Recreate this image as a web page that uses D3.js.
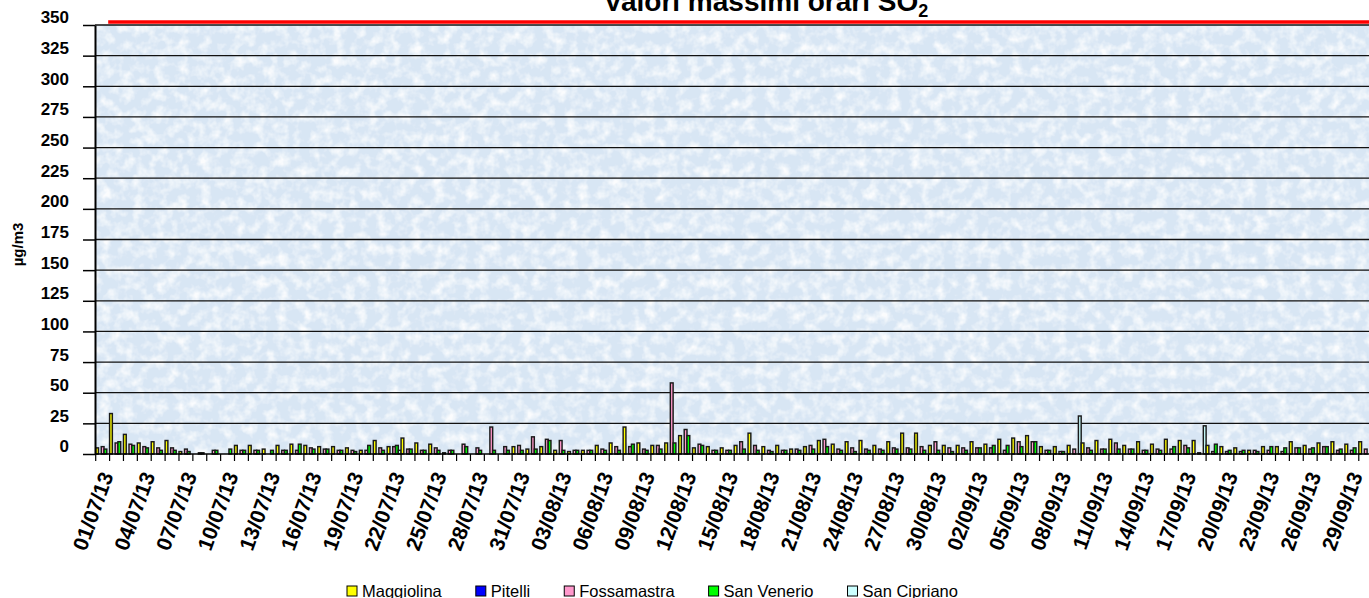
<!DOCTYPE html>
<html>
<head>
<meta charset="utf-8">
<script src="https://cdn.jsdelivr.net/npm/d3@7"></script>
<style>
  body { margin: 0; background: #fff; }
  svg { display: block; font-family: "Liberation Sans", Arial, sans-serif; }
</style>
</head>
<body>
<svg id="chart"></svg>
<script>
// categories: one per day, 01/07/13 .. 30/09/13
const fmt = d3.timeFormat("%d/%m/%y");
const categories = d3.timeDay.range(new Date(2013, 6, 1), new Date(2013, 9, 1)).map(fmt);

const seriesNames = ["Maggiolina", "Pitelli", "Fossamastra", "San Venerio", "San Cipriano"];
const seriesColors = ["#FFFF00", "#0000FF", "#FF99CC", "#00FF00", "#CCFFFF"];

// daily max hourly SO2 (µg/m3), null = no data
const maggiolina = [5, 33, 16, 9, 10, 11, 2, null, null, null, 7, 7, 4, 7, 8, 7, 6, 6, 5, 3,
  11, 6, 13, 9, 8, 1, null, null, null, null, 6, 4, 6, 3, 2, 3, 7, 9, 22, 9,
  7, 9, 15, 5, 6, 5, 7, 17, 6, 7, 4, 6, 11, 8, 10, 11, 7, 10, 17, 17,
  7, 7, 7, 10, 8, 12, 13, 15, 6, 6, 7, 9, 11, 12, 7, 10, 8, 12, 11, 11,
  7, 6, 5, 3, 6, 6, 10, 7, 9, 10, 8, 10];
const pitelli = new Array(92).fill(null);
const fossamastra = [6, 9, 8, 6, 5, 5, 4, 1, 3, null, 3, 3, null, 3, 3, 5, 4, 3, 3, 3,
  5, 6, 4, 3, 5, 3, 8, 5, 22, 6, 7, 14, 12, 11, 3, 3, 4, 6, 6, 4,
  7, 58, 20, 8, 3, 3, 10, 7, 3, 3, 4, 7, 12, 4, 5, 4, 4, 5, 5, 6,
  10, 5, 5, 5, 5, 3, 10, 10, 3, 2, 4, 5, 4, 9, 4, 3, 4, 4, 7, 1,
  2, 2, 2, 3, 3, 2, 5, 4, 6, 3, 3, 4];
const sanVenerio = [4, 10, 7, 5, 3, 3, 2, 1, 3, 4, 3, 3, 3, 3, 8, 4, 4, 3, 2, 7,
  3, 7, 4, 3, 3, 3, 6, 3, 3, 3, 3, 4, 11, 3, 3, 3, 3, 3, 8, 3,
  4, 9, 15, 7, 3, 3, 4, 3, 2, 3, 3, 4, 6, 3, 2, 3, 3, 4, 4, 3,
  3, 2, 3, 5, 7, 7, 6, 10, 3, 2, null, 3, 4, 4, 4, 3, 3, 6, 5, null,
  8, 3, 3, 2, 6, 5, 5, 5, 6, 4, 5, null];
const sanCipriano = new Array(92).fill(null);
sanCipriano[21] = 3; sanCipriano[70] = 31; sanCipriano[79] = 23;

const seriesValues = [maggiolina, pitelli, fossamastra, sanVenerio, sanCipriano];
const yTicks = d3.range(0, 351, 25);
const LIMIT = 350;

const W = 1369, H = 598;
const svg = d3.select("#chart").attr("width", W).attr("height", H);

// scales
const x0 = d3.scaleBand().domain(categories).range([95.7, 95.7 + 13.88 * 92]).padding(0);
const x1 = d3.scaleBand().domain(seriesNames).range([0, x0.bandwidth()]).padding(0);
const y = d3.scaleLinear().domain([0, 350]).range([454, 25]);

// plot background with texture
const defs = svg.append("defs");
const f = defs.append("filter").attr("id", "tex").attr("x", 0).attr("y", 0).attr("width", 1).attr("height", 1);
f.append("feTurbulence").attr("type", "fractalNoise").attr("baseFrequency", "0.09")
  .attr("numOctaves", 3).attr("seed", 7);
f.append("feColorMatrix").attr("type", "matrix")
  .attr("values", "0 0 0 0 1  0 0 0 0 1  0 0 0 0 1  0 0 0 2.2 -0.9");

const plotX = 95, plotY = y(350), plotW = W - 95, plotH = y(0) - y(350);
svg.append("rect").attr("x", plotX).attr("y", plotY).attr("width", plotW).attr("height", plotH)
  .attr("fill", "#d8e6f4");
svg.append("rect").attr("x", plotX).attr("y", plotY).attr("width", plotW).attr("height", plotH)
  .attr("filter", "url(#tex)").attr("opacity", 0.9);

// gridlines
svg.append("g").selectAll("line")
  .data(yTicks.filter(v => v > 0))
  .enter().append("line")
  .attr("x1", plotX).attr("x2", W)
  .attr("y1", d => y(d)).attr("y2", d => y(d))
  .attr("stroke", "#111").attr("stroke-width", 1.3);

// bars
const rows = categories.map((c, i) => ({ key: c, vals: seriesNames.map((s, j) => ({ s, j, v: seriesValues[j][i] })) }));
svg.append("g").selectAll("g")
  .data(rows)
  .enter().append("g")
  .attr("transform", d => `translate(${x0(d.key)},0)`)
  .selectAll("rect")
  .data(d => d.vals.filter(e => e.v != null))
  .enter().append("rect")
  .attr("x", d => x1(d.s))
  .attr("width", x1.bandwidth())
  .attr("y", d => y(d.v))
  .attr("height", d => y(0) - y(d.v))
  .attr("fill", d => seriesColors[d.j])
  .attr("stroke", "#1a1a1a")
  .attr("stroke-width", 1.45);

// limit line
svg.append("line")
  .attr("x1", x0(categories[0]) + x0.bandwidth() * 0.9).attr("x2", W)
  .attr("y1", y(LIMIT) - 3).attr("y2", y(LIMIT) - 3)
  .attr("stroke", "#ff0000").attr("stroke-width", 3.5);

// y axis
const yAxis = d3.axisLeft(y).tickValues(yTicks).tickSize(12).tickSizeOuter(0).tickPadding(14);
const gy = svg.append("g").attr("transform", `translate(${plotX},0)`).call(yAxis);
gy.select(".domain").attr("stroke", "#000").attr("stroke-width", 2);
gy.selectAll(".tick line").attr("stroke", "#000").attr("stroke-width", 1.5);
gy.selectAll(".tick text").attr("dy", "-0.12em")
  .attr("font-size", 17).attr("font-weight", "bold").attr("fill", "#000")
  .style("font-family", "'Liberation Sans', Arial, sans-serif");

// x axis
svg.append("line").attr("x1", plotX).attr("x2", W).attr("y1", y(0)).attr("y2", y(0))
  .attr("stroke", "#000").attr("stroke-width", 1.5);
svg.append("g").selectAll("line")
  .data(categories)
  .enter().append("line")
  .attr("x1", d => x0(d)).attr("x2", d => x0(d))
  .attr("y1", y(0)).attr("y2", y(0) + 7)
  .attr("stroke", "#000").attr("stroke-width", 1.2);
svg.append("g").selectAll("text")
  .data(categories.filter((d, i) => i % 3 === 0))
  .enter().append("text")
  .attr("transform", d => `translate(${x0(d) + x0.bandwidth() / 2 - 3},${y(0) + 16}) rotate(-70)`)
  .attr("text-anchor", "end")
  .attr("dy", "0.72em")
  .attr("font-size", 21).attr("font-weight", "bold")
  .text(d => d);

// y label
svg.append("text")
  .attr("transform", `translate(23,${(y(0) + y(350)) / 2 + 5}) rotate(-90)`)
  .attr("text-anchor", "middle")
  .attr("font-size", 15).attr("font-weight", "bold")
  .text("µg/m3");

// title
const title = svg.append("text")
  .attr("x", 766).attr("y", 11)
  .attr("text-anchor", "middle")
  .attr("font-size", 28).attr("font-weight", "bold");
title.append("tspan").text("Valori massimi orari SO");
title.append("tspan").attr("font-size", 18).attr("dy", 6).text("2");

// legend
const legend = svg.append("g");
let lx = 347;
seriesNames.forEach((name, i) => {
  const g = legend.append("g").attr("transform", `translate(${lx},586)`);
  g.append("rect").attr("width", 10).attr("height", 10)
    .attr("fill", seriesColors[i]).attr("stroke", "#000").attr("stroke-width", 1);
  const t = g.append("text").attr("x", 15).attr("y", 10.5)
    .attr("font-size", 16.5).text(name);
  lx += 15 + t.node().getComputedTextLength() + 34;
});
</script>
</body>
</html>
